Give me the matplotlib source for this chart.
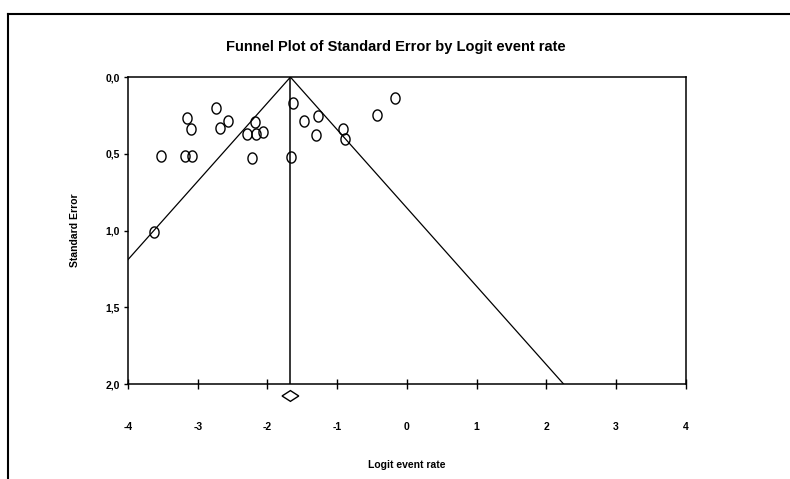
import matplotlib
matplotlib.use("Agg")
import matplotlib.pyplot as plt
import numpy as np
from matplotlib.patches import Polygon
from matplotlib.lines import Line2D
from matplotlib.path import Path
from matplotlib import font_manager

# Study points
logit_rate = [-3.16, -3.10, -2.74, -2.68, -2.57, -3.53, -3.18, -3.08,
              -2.18, -2.29, -2.17, -2.07, -2.22, -3.63, -1.63, -1.48,
              -1.27, -1.30, -1.66, -0.92, -0.89, -0.43, -0.17]
std_err = [0.265, 0.341, 0.20, 0.33, 0.287, 0.513, 0.513, 0.517,
           0.293, 0.369, 0.371, 0.356, 0.53, 1.01, 0.167, 0.285,
           0.254, 0.378, 0.523, 0.341, 0.404, 0.248, 0.139]

# Summary estimate and its confidence interval (diamond)
summary_est = -1.67
summary_ci = [-1.79, -1.55]

x_ticks = [-4, -3, -2, -1, 0, 1, 2, 3, 4]
y_ticks = [0.0, 0.5, 1.0, 1.5, 2.0]
y_tick_labels = ["0,0", "0,5", "1,0", "1,5", "2,0"]

names = {f.name for f in font_manager.fontManager.ttflist}
font = ["Liberation Sans Narrow"] if "Liberation Sans Narrow" in names else ["Liberation Sans"]
plt.rcParams["font.family"] = font + ["DejaVu Sans"]

fig = plt.figure(figsize=(7.9, 4.79), dpi=100)
ax = fig.add_axes([0.162, 0.198, 0.706, 0.641])

# Funnel: mean line and 95% pseudo-confidence limits
se_line = np.array([0.0, 2.0])
ax.plot([summary_est, summary_est], se_line, color="black", lw=1.1)
ax.plot(summary_est - 1.96 * se_line, se_line, color="black", lw=0.9)
ax.plot(summary_est + 1.96 * se_line, se_line, color="black", lw=0.9)

# slightly tall open ellipse marker
t = np.linspace(0, 2 * np.pi, 40)
ellipse = Path(np.column_stack([0.82 * np.cos(t), np.sin(t)]), closed=True)
ax.plot(logit_rate, std_err, linestyle="none", marker=ellipse, markersize=8,
        markerfacecolor="none", markeredgecolor="black", markeredgewidth=1.0)

# Summary diamond below the axis
d_h = 0.035
diamond = Polygon([[summary_ci[0], 2.0 + 2.2 * d_h],
                   [summary_est, 2.0 + 1.2 * d_h],
                   [summary_ci[1], 2.0 + 2.2 * d_h],
                   [summary_est, 2.0 + 3.2 * d_h]],
                  closed=True, fill=False, edgecolor="black", lw=1.0,
                  clip_on=False)
ax.add_patch(diamond)

ax.set_xlim(-4, 4)
ax.set_ylim(2.0, 0.0)

ax.set_xticks(x_ticks)
ax.set_xticklabels([str(t) for t in x_ticks], fontsize=7.5, fontweight="bold")
ax.set_yticks(y_ticks)
ax.set_yticklabels(y_tick_labels, fontsize=7.5, fontweight="bold")
ax.tick_params(axis="x", direction="inout", length=7, width=1, pad=24)
ax.tick_params(axis="y", direction="out", length=3, width=1, pad=3)

for s in ax.spines.values():
    s.set_linewidth(1.1)

ax.set_xlabel("Logit event rate", fontsize=7.5, fontweight="bold", labelpad=20)
ax.set_ylabel("Standard Error", fontsize=7.5, fontweight="bold", labelpad=18)
ax.set_title("Funnel Plot of Standard Error by Logit event rate",
             fontsize=10.5, fontweight="bold", pad=19, x=0.48)

# Outer frame (left and top edges visible)
fig.add_artist(Line2D([8 / 790, 8 / 790], [0, 1 - 14 / 479],
                      transform=fig.transFigure, color="black", lw=1.5))
fig.add_artist(Line2D([8 / 790, 1], [1 - 14 / 479, 1 - 14 / 479],
                      transform=fig.transFigure, color="black", lw=1.5))

fig.savefig("out.png", dpi=100)
